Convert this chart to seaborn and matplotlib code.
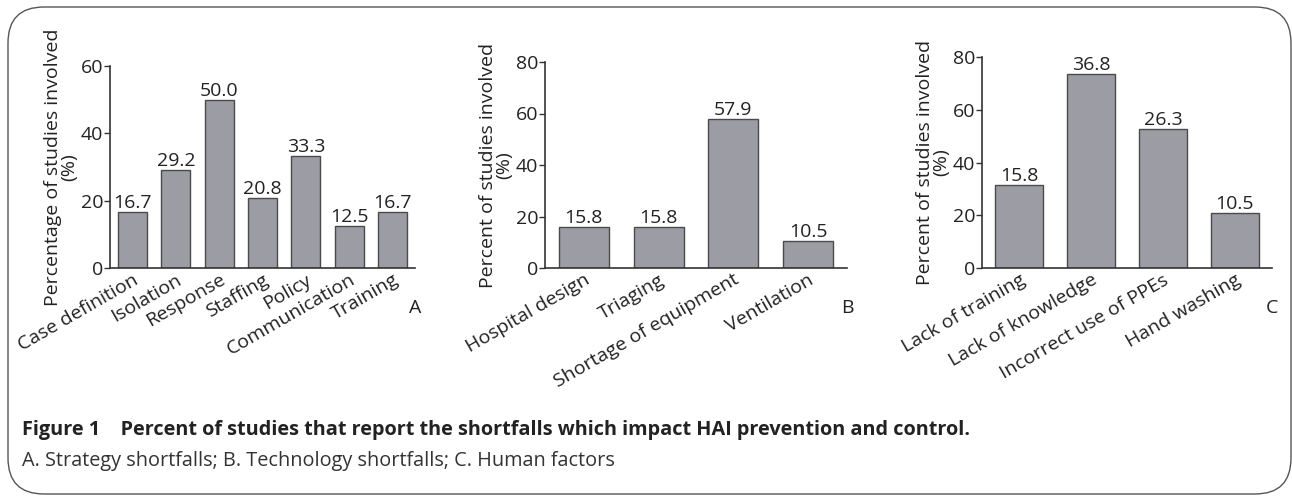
import matplotlib
matplotlib.use('Agg')
import matplotlib.pyplot as plt
import seaborn as sns
import pandas as pd
from matplotlib.patches import FancyBboxPatch
from matplotlib.transforms import IdentityTransform

# Panel A - strategy shortfalls
cats_a = ['Case definition', 'Isolation', 'Response', 'Staffing', 'Policy', 'Communication', 'Training']
vals_a = [16.7, 29.2, 50.0, 20.8, 33.3, 12.5, 16.7]
labels_a = ['16.7', '29.2', '50.0', '20.8', '33.3', '12.5', '16.7']

# Panel B - technology shortfalls
cats_b = ['Hospital design', 'Triaging', 'Shortage of equipment', 'Ventilation']
vals_b = [15.8, 15.8, 57.9, 10.5]
labels_b = ['15.8', '15.8', '57.9', '10.5']

# Panel C - human factors (bar heights as drawn, labels as printed)
cats_c = ['Lack of training', 'Lack of knowledge', 'Incorrect use of PPEs', 'Hand washing']
vals_c = [31.6, 73.6, 52.6, 21.0]
labels_c = ['15.8', '36.8', '26.3', '10.5']

sns.set_style('ticks')
plt.rcParams['font.family'] = ['Open Sans', 'DejaVu Sans']

BAR = '#9b9ca4'
EDGE = '#4a4a4a'
AXC = '#333333'
TXT = '#222222'
FS = 14

fig = plt.figure(figsize=(12.92, 4.96), dpi=100)

panels = [
    (cats_a, vals_a, labels_a, 60, [0, 20, 40, 60], 'Percentage of studies involved\n(%)', 'A',
     [110, 415, 66]),
    (cats_b, vals_b, labels_b, 80, [0, 20, 40, 60, 80], 'Percent of studies involved\n(%)', 'B',
     [545, 847, 62]),
    (cats_c, vals_c, labels_c, 80, [0, 20, 40, 60, 80], 'Percent of studies involved\n(%)', 'C',
     [982, 1272, 57]),
]

W, H = 1292, 496
y0 = 268
for cats, vals, labs, ymax, ticks, ylab, letter, (x1, x2, ytop) in panels:
    ax = fig.add_axes([x1 / W, 1 - y0 / H, (x2 - x1) / W, (y0 - ytop) / H])
    df = pd.DataFrame({'cat': cats, 'val': vals})
    sns.barplot(data=df, x='cat', y='val', ax=ax, color=BAR, edgecolor=EDGE,
                linewidth=1.0, width=0.67, saturation=1)
    ax.bar_label(ax.containers[0], labels=labs, padding=0, fontsize=FS, color=TXT)
    ax.set_ylim(0, ymax)
    ax.set_xlim(-0.52, len(cats) - 0.48)
    ax.set_yticks(ticks)
    ax.tick_params(axis='y', labelsize=FS, length=4, width=1, color=AXC, pad=1, labelcolor=TXT)
    ax.tick_params(axis='x', length=0, labelsize=FS, pad=2, labelcolor=TXT)
    plt.setp(ax.get_xticklabels(), rotation=30, ha='right', rotation_mode='anchor')
    ax.set_xlabel('')
    ax.set_ylabel(ylab, fontsize=FS, color=TXT, linespacing=0.85, labelpad=2)
    for s in ['top', 'right']:
        ax.spines[s].set_visible(False)
    for s in ['left', 'bottom']:
        ax.spines[s].set_color(AXC)
        ax.spines[s].set_linewidth(1.2)
    fig.text(x2 / W, 1 - 308 / H, letter, fontsize=FS, color=TXT, ha='center', va='center')

# caption
fig.text(22 / W, 1 - 430 / H, 'Figure 1    Percent of studies that report the shortfalls which impact HAI prevention and control.',
         fontsize=14.3, fontweight='bold', color=TXT, va='center')
fig.text(22 / W, 1 - 461 / H, 'A. Strategy shortfalls; B. Technology shortfalls; C. Human factors',
         fontsize=14.3, color='#333333', va='center')

# rounded frame (pixel coordinates)
frame = FancyBboxPatch((8, 2), 1283, 487,
                       boxstyle='round,pad=0,rounding_size=36',
                       transform=IdentityTransform(), fill=False, edgecolor='#555555', linewidth=1.0)
fig.patches.append(frame)

fig.savefig('out.png', dpi=100)
